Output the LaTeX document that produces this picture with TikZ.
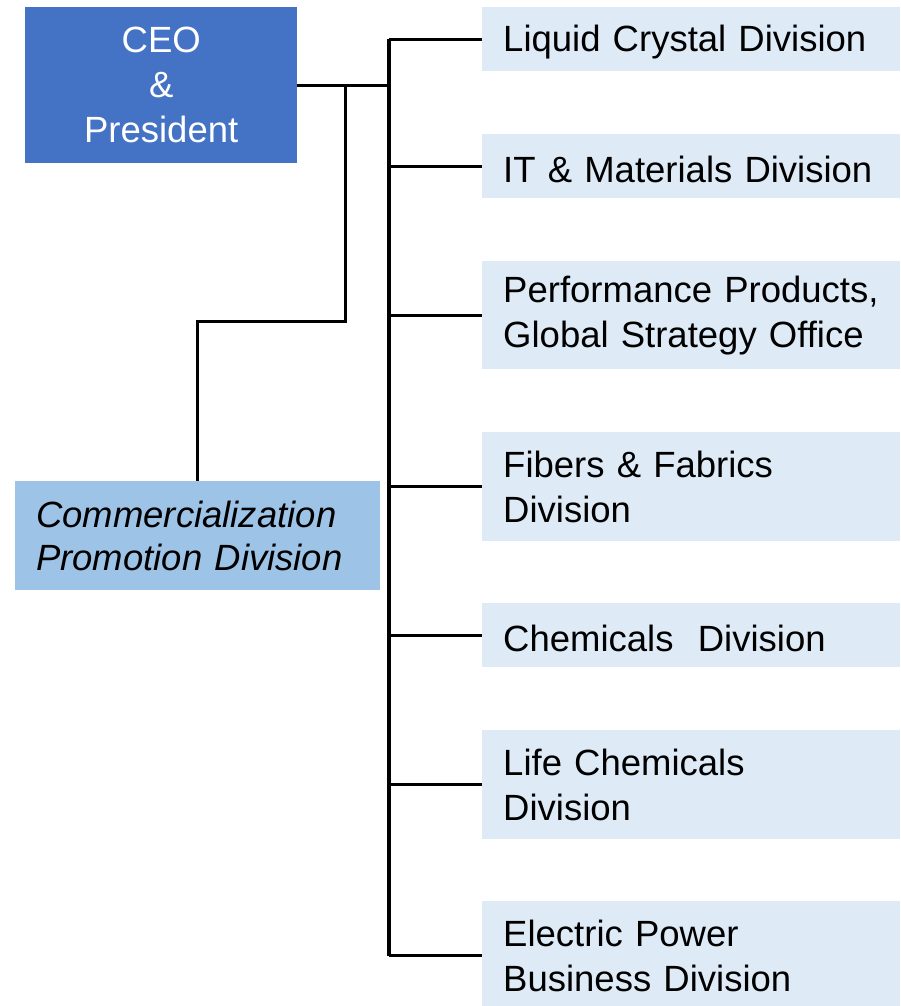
\documentclass[tikz,border=0pt]{standalone}
\usepackage{fontspec}
\setmainfont{Liberation Sans}
\definecolor{ceoblue}{HTML}{4472C4}
\definecolor{cpdblue}{HTML}{9DC3E6}
\definecolor{divblue}{HTML}{DEEAF6}
\newcommand\lowr[1]{\raisebox{-3pt}[\height][\depth]{#1}}
\begin{document}
\begin{tikzpicture}[x=1pt,y=-1pt,
  txt/.style={font=\fontsize{36.5}{45}\selectfont},
  ceobox/.style={txt,fill=ceoblue,text=white,align=center,anchor=north west,inner sep=0pt,minimum width=272pt,minimum height=156pt},
  cpdbox/.style={fill=cpdblue,align=left,anchor=north west,inner xsep=21pt,inner ysep=0pt,text width=323pt,minimum height=109pt,font=\fontsize{36.5}{43}\selectfont\itshape},
  divbox/.style={txt,fill=divblue,align=left,anchor=north west,inner xsep=21pt,inner ysep=0pt,text width=376pt},
  conn/.style={line width=3pt,line cap=butt},
  trunkline/.style={line width=4pt}]
\useasboundingbox (0,0) rectangle (900,1006);
\node[ceobox] (ceo) at (25,7) {CEO\\\&\\President};
\node[cpdbox] (cpd) at (15,481) {Commercialization\\Promotion Division};
\node[divbox,minimum height=64pt] (lc) at (482,7) {\lowr{Liquid Crystal Division}};
\node[divbox,minimum height=64pt] (it) at (482,134) {\lowr{IT \& Materials Division}};
\node[divbox,minimum height=108pt] (pp) at (482,261) {\mbox{Performance\ Products,}\\Global Strategy Office};
\node[divbox,minimum height=109pt] (ff) at (482,432) {Fibers \& Fabrics\\Division};
\node[divbox,minimum height=64pt] (ch) at (482,603) {\lowr{Chemicals\ \ Division}};
\node[divbox,minimum height=109pt] (lf) at (482,730) {Life Chemicals\\Division};
\node[divbox,minimum height=109pt] (ep) at (482,901) {Electric Power\\Business Division};
\coordinate (trunk) at (389,0);
\coordinate (branch) at (345,0);
\coordinate (elbow) at (0,321);
% trunk
\draw[trunkline] (lc.west -| trunk) -- (ep.west -| trunk);
\foreach \n in {lc,it,pp,ff,ch,lf,ep}
  \draw[conn] (\n.west) -- (\n.west -| trunk);
\draw[conn] (ceo.east) -- (ceo.east -| trunk);
\draw[conn] (ceo.east -| branch) |- (elbow -| cpd.north) -- (cpd.north);
\end{tikzpicture}
\end{document}
